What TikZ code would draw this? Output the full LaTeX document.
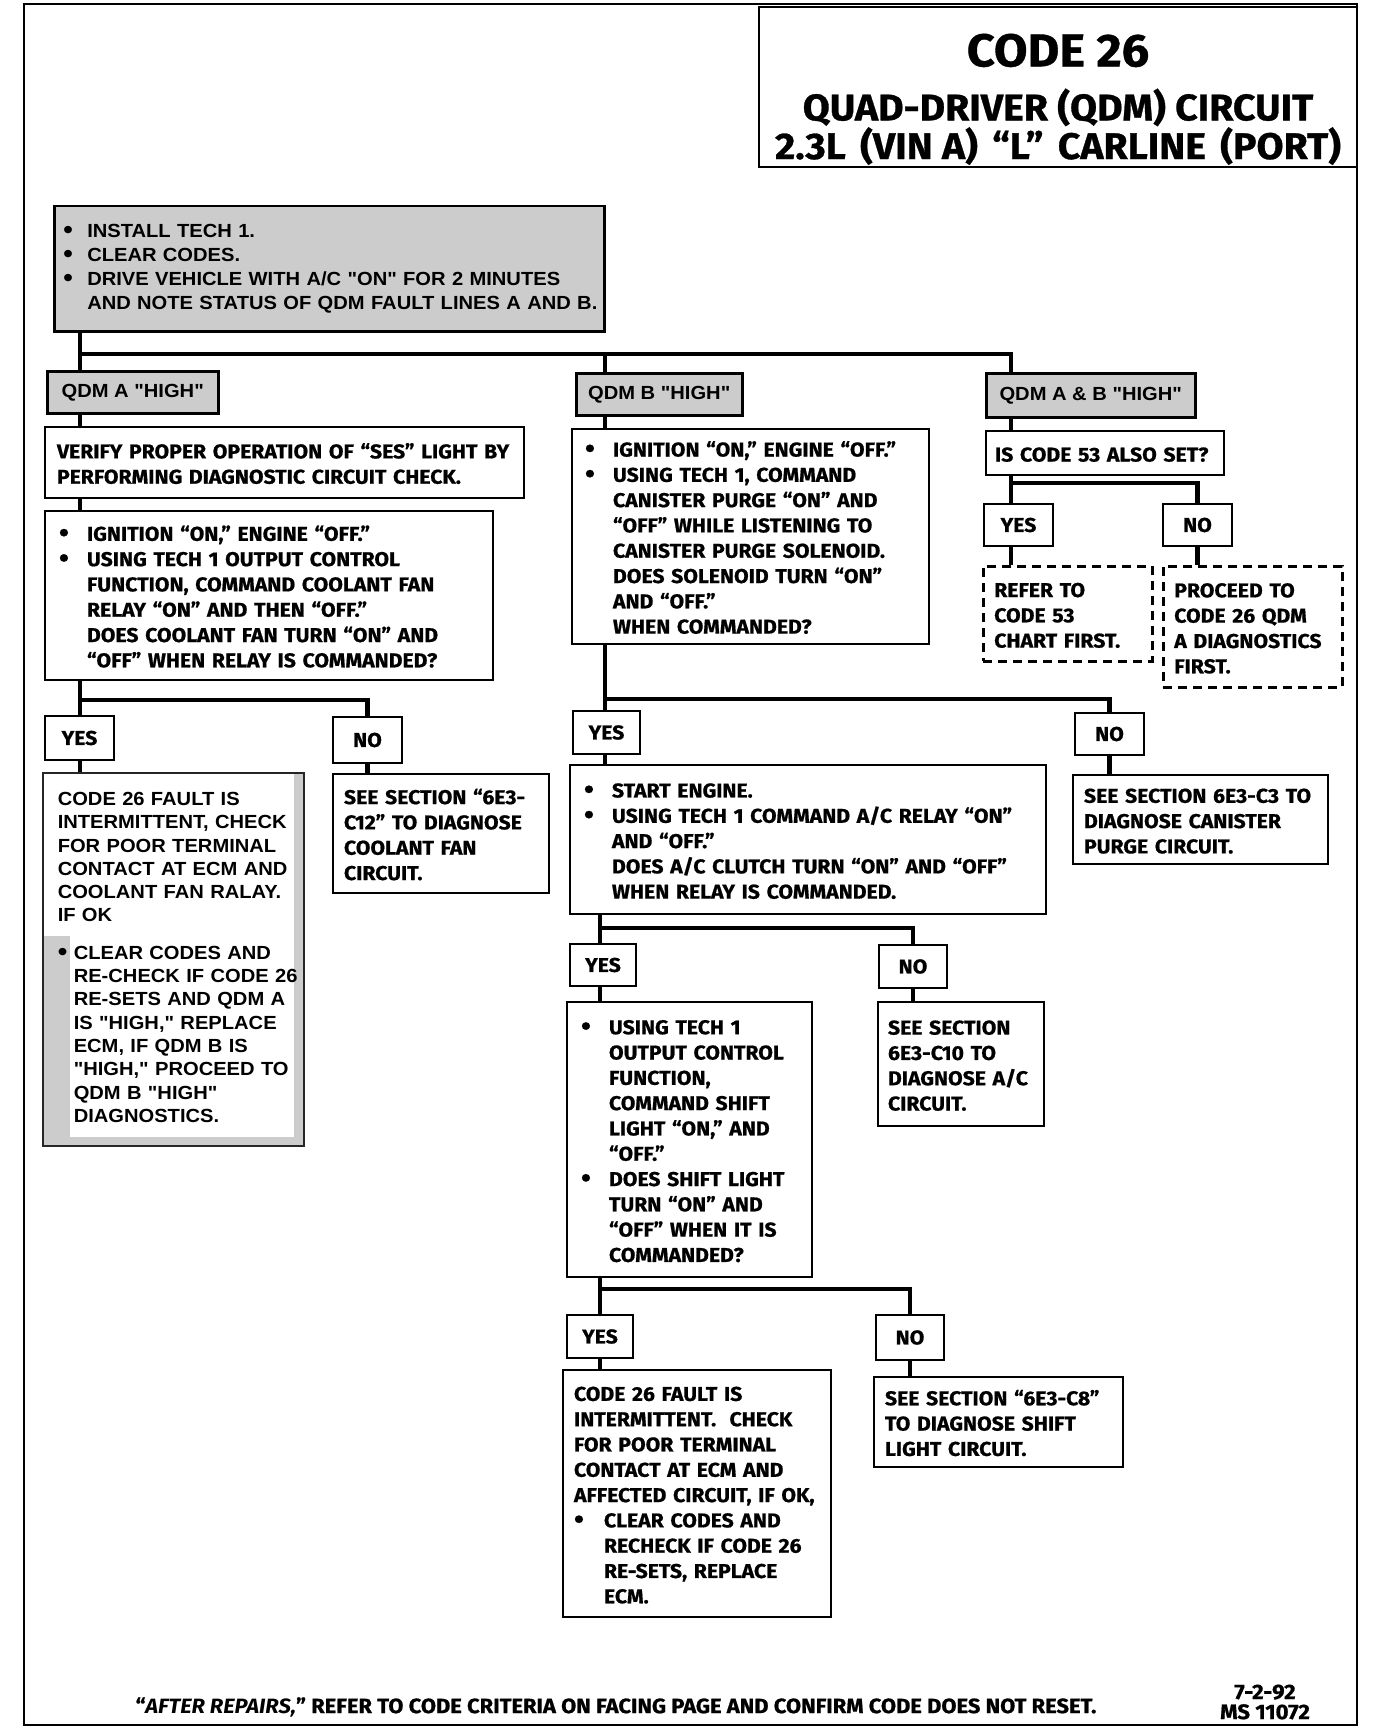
\documentclass[tikz,border=0pt]{standalone}
\usepackage{fontspec}
\newfontfamily\chartfont{Fira Sans}[FakeStretch=1.06, BoldFeatures={FakeBold=0.8}]
\newfontfamily\helvfont{Liberation Sans}[FakeStretch=1.06]
\usetikzlibrary{positioning}

\newcommand{\lines}[2][-3.5pt]{\noindent\raisebox{#1}[\height][\depth]{\begin{tabular}{@{}l@{}}#2\end{tabular}}}
\newcommand{\bul}[1][28pt]{\makebox[#1][l]{\raisebox{-0.1ex}[0pt][0pt]{\scalebox{1.35}{\textbullet}}}}
\newcommand{\ind}[1][28pt]{\hspace*{#1}}

\tikzset{
  box/.style={draw, line width=2pt, fill=white, anchor=north west, align=left,
    inner xsep=12pt, inner ysep=0pt,
    font=\chartfont\bfseries\fontsize{20}{25.3}\selectfont},
  graybox/.style={box, fill=black!20, line width=2.5pt,
    font=\helvfont\bfseries\fontsize{19}{23.7}\selectfont},
  stipbox/.style={box, draw=black!85, line width=1.5pt,
    font=\helvfont\bfseries\fontsize{19}{23.3}\selectfont,
    path picture={
      \fill[black!20] ([xshift=-10pt]path picture bounding box.north east) rectangle (path picture bounding box.south east);
      \fill[black!20] ([yshift=9pt]path picture bounding box.south west) rectangle (path picture bounding box.south east);
      \fill[black!20] ([yshift=210pt]path picture bounding box.south west) rectangle ([xshift=27pt]path picture bounding box.south west);
    }},
  dashbox/.style={box, line width=2.5pt, dash pattern=on 9pt off 6pt},
  tag/.style={draw, line width=2pt, fill=white, anchor=north west, inner sep=0pt,
    font=\chartfont\bfseries\fontsize{20}{22}\selectfont},
  graytag/.style={tag, fill=black!20, line width=2.5pt,
    font=\helvfont\bfseries\fontsize{19}{22}\selectfont},
  link/.style={line width=4.5pt}
}

\begin{document}
\begin{tikzpicture}[x=1pt,y=-1pt]
\useasboundingbox (0,0) rectangle (1376,1736);
\draw[line width=2.5pt] (24,4) rectangle (1357,1725);

% title block
\node[tag, minimum width=598pt, minimum height=160pt] (title) at (758,6) {};
\node[anchor=north, align=center, inner sep=0pt, font=\chartfont\bfseries\fontsize{37}{37}\selectfont] (titletxt) at ([yshift=-27.5pt]title.north)
  {{\fontsize{46}{37}\selectfont CODE 26}\\[17pt]
   QUAD-DRIVER (QDM) CIRCUIT\\
   2.3L\hspace{5pt} (VIN A)\hspace{5pt} “L”\hspace{5pt} CARLINE\hspace{5pt} (PORT)};

% start
\node[graybox, inner xsep=9pt, text width=532pt, minimum height=125pt] (init) at (53,205)
  {\lines[0pt]{\bul[24pt]INSTALL TECH 1.\\
   \bul[24pt]CLEAR CODES.\\
   \bul[24pt]DRIVE VEHICLE WITH A/C "ON" FOR 2 MINUTES\\
   \ind[24pt]AND NOTE STATUS OF QDM FAULT LINES A AND B.}};

\node[graytag, minimum width=171pt, minimum height=42pt] (qa) at (46,370) {QDM A "HIGH"};
\node[graytag, minimum width=166pt, minimum height=42pt] (qb) at (575,372) {QDM B "HIGH"};
\node[graytag, minimum width=209pt, minimum height=44pt] (qab) at (985,372) {QDM A \& B "HIGH"};

% QDM A column
\node[box, text width=455pt, minimum height=71pt] (verA) at (44,426)
  {\lines{VERIFY PROPER OPERATION OF “SES” LIGHT BY\\
   PERFORMING DIAGNOSTIC CIRCUIT CHECK.}};
\node[box, inner xsep=14pt, text width=420pt, minimum height=169pt] (ignA) at (44,510)
  {\lines{\bul IGNITION “ON,” ENGINE “OFF.”\\
   \bul USING TECH 1 OUTPUT CONTROL\\
   \ind FUNCTION, COMMAND COOLANT FAN\\
   \ind RELAY “ON” AND THEN “OFF.”\\
   \ind DOES COOLANT FAN TURN “ON” AND\\
   \ind “OFF” WHEN RELAY IS COMMANDED?}};
\node[tag, minimum width=69pt, minimum height=44pt] (yesA) at (44,715) {YES};
\node[tag, minimum width=69pt, minimum height=46pt] (noA) at (332,716) {NO};
\node[stipbox, inner xsep=15pt, text width=231pt, minimum height=373pt] (resA) at (42,772)
  {\lines[0pt]{CODE 26 FAULT IS\\
   INTERMITTENT, CHECK\\
   FOR POOR TERMINAL\\
   CONTACT AT ECM AND\\
   COOLANT FAN RALAY.\\
   IF OK\\[14pt]
   \bul[16pt]CLEAR CODES AND\\
   \ind[16pt]RE-CHECK IF CODE 26\\
   \ind[16pt]RE-SETS AND QDM A\\
   \ind[16pt]IS "HIGH," REPLACE\\
   \ind[16pt]ECM, IF QDM B IS\\
   \ind[16pt]"HIGH," PROCEED TO\\
   \ind[16pt]QDM B "HIGH"\\
   \ind[16pt]DIAGNOSTICS.}};
\node[box, inner xsep=11pt, text width=194pt, minimum height=119pt] (noresA) at (332,773)
  {\lines{SEE SECTION “6E3-\\
   C12” TO DIAGNOSE\\
   COOLANT FAN\\
   CIRCUIT.}};

% QDM B column
\node[box, inner xsep=13pt, text width=331pt, minimum height=215pt] (ignB) at (571,428)
  {\lines{\bul IGNITION “ON,” ENGINE “OFF.”\\
   \bul USING TECH 1, COMMAND\\
   \ind CANISTER PURGE “ON” AND\\
   \ind “OFF” WHILE LISTENING TO\\
   \ind CANISTER PURGE SOLENOID.\\
   \ind DOES SOLENOID TURN “ON”\\
   \ind AND “OFF.”\\
   \ind WHEN COMMANDED?}};
\node[tag, minimum width=67pt, minimum height=43pt] (yesB) at (572,710) {YES};
\node[tag, minimum width=69pt, minimum height=42pt] (noB) at (1074,712) {NO};
\node[box, inner xsep=14pt, text width=448pt, minimum height=149pt] (startB) at (569,764)
  {\lines{\bul START ENGINE.\\
   \bul USING TECH 1 COMMAND A/C RELAY “ON”\\
   \ind AND “OFF.”\\
   \ind DOES A/C CLUTCH TURN “ON” AND “OFF”\\
   \ind WHEN RELAY IS COMMANDED.}};
\node[box, inner xsep=11pt, text width=233pt, minimum height=89pt] (noresB) at (1072,774)
  {\lines{SEE SECTION 6E3-C3 TO\\
   DIAGNOSE CANISTER\\
   PURGE CIRCUIT.}};
\node[tag, minimum width=66pt, minimum height=42pt] (yesC) at (569,943) {YES};
\node[tag, minimum width=68pt, minimum height=43pt] (noC) at (878,944) {NO};
\node[box, inner xsep=14pt, text width=217pt, minimum height=275pt] (usingC) at (566,1001)
  {\lines{\bul USING TECH 1\\
   \ind OUTPUT CONTROL\\
   \ind FUNCTION,\\
   \ind COMMAND SHIFT\\
   \ind LIGHT “ON,” AND\\
   \ind “OFF.”\\
   \bul DOES SHIFT LIGHT\\
   \ind TURN “ON” AND\\
   \ind “OFF” WHEN IT IS\\
   \ind COMMANDED?}};
\node[box, inner xsep=10pt, text width=146pt, minimum height=124pt] (noresC) at (877,1001)
  {\lines{SEE SECTION\\
   6E3-C10 TO\\
   DIAGNOSE A/C\\
   CIRCUIT.}};
\node[tag, minimum width=66pt, minimum height=43pt] (yesD) at (566,1314) {YES};
\node[tag, minimum width=68pt, minimum height=45pt] (noD) at (875,1314) {NO};
\node[box, inner xsep=11pt, text width=246pt, minimum height=247pt] (resD) at (562,1369)
  {\lines{CODE 26 FAULT IS\\
   INTERMITTENT.\ \ CHECK\\
   FOR POOR TERMINAL\\
   CONTACT AT ECM AND\\
   AFFECTED CIRCUIT, IF OK,\\
   \bul[30pt]CLEAR CODES AND\\
   \ind[30pt]RECHECK IF CODE 26\\
   \ind[30pt]RE-SETS, REPLACE\\
   \ind[30pt]ECM.}};
\node[box, inner xsep=11pt, text width=227pt, minimum height=90pt] (noresD) at (873,1376)
  {\lines{SEE SECTION “6E3-C8”\\
   TO DIAGNOSE SHIFT\\
   LIGHT CIRCUIT.}};

% QDM A & B column
\node[box, inner xsep=9pt, text width=220pt, minimum height=44pt] (q53) at (985,430)
  {\lines{IS CODE 53 ALSO SET?}};
\node[tag, minimum width=69pt, minimum height=42pt] (yesE) at (983,503) {YES};
\node[tag, minimum width=69pt, minimum height=42pt] (noE) at (1162,503) {NO};
\node[dashbox, inner xsep=11pt, text width=147pt, minimum height=95pt] (refer) at (982,565)
  {\lines{REFER TO\\
   CODE 53\\
   CHART FIRST.}};
\node[dashbox, inner xsep=11pt, text width=157pt, minimum height=121pt] (proceed) at (1162,565)
  {\lines{PROCEED TO\\
   CODE 26 QDM\\
   A DIAGNOSTICS\\
   FIRST.}};

% connectors
\coordinate (sA) at (80,354);
\coordinate (sB) at (605,354);
\coordinate (sC) at (1011,354);
\draw[link] (init.south -| sA) -- (qa.north -| sA);
\draw[link] (sA) -| (qab.north -| sC);
\draw[link] (sB) -- (qb.north -| sB);
\draw[link] (qa.south -| sA) -- (verA.north -| sA);
\draw[link] (verA.south -| sA) -- (ignA.north -| sA);
\draw[link] (qb.south -| sB) -- (ignB.north -| sB);
\draw[link] (qab.south -| sC) -- (q53.north -| sC);
\foreach \up/\yes/\no/\yres/\nres/\x/\y in {
    ignA/yesA/noA/resA/noresA/80/700,
    ignB/yesB/noB/startB/noresB/605/699,
    startB/yesC/noC/usingC/noresC/600/928,
    usingC/yesD/noD/resD/noresD/600/1289,
    q53/yesE/noE/refer/proceed/1011/483} {
  \coordinate (j) at (\x,\y);
  \draw[link] (\up.south -| j) -- (\yes.north -| j);
  \draw[link] (j) -| (\no.north);
  \draw[link] (\yes.south -| j) -- (\yres.north -| j);
  \draw[link] (\no.south) -- (\nres.north -| \no.south);
}

% footer
\node[font=\chartfont\bfseries\fontsize{20.7}{22}\selectfont] (after) at (616,1707)
  {“\textit{AFTER REPAIRS,}” REFER TO CODE CRITERIA ON FACING PAGE AND CONFIRM CODE DOES NOT RESET.};
\node[align=center, font=\chartfont\bfseries\fontsize{21}{20}\selectfont] (date) at (1265,1702)
  {7-2-92\\MS 11072};
\end{tikzpicture}
\end{document}
